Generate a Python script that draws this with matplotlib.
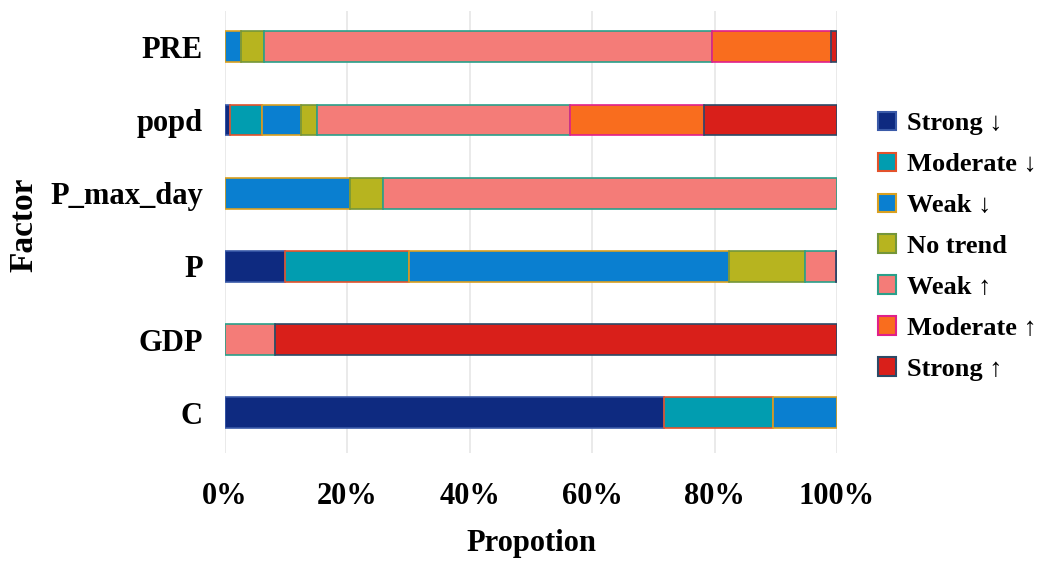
import matplotlib
matplotlib.use("Agg")
import matplotlib.pyplot as plt
import numpy as np
from matplotlib.patches import Patch
from matplotlib.ticker import PercentFormatter

factors = ['C', 'GDP', 'P', 'P_max_day', 'popd', 'PRE']
series = ['Strong ↓', 'Moderate ↓', 'Weak ↓', 'No trend', 'Weak ↑', 'Moderate ↑', 'Strong ↑']

strong_down   = [71.7, 0.0,  9.8,  0.0,  0.8,  0.0]
moderate_down = [17.8, 0.0, 20.2,  0.0,  5.3,  0.0]
weak_down     = [10.5, 0.0, 52.3, 20.5,  6.4,  2.6]
no_trend      = [0.0,  0.0, 12.5,  5.4,  2.6,  3.7]
weak_up       = [0.0,  8.2,  5.0, 74.1, 41.2, 73.2]
moderate_up   = [0.0,  0.0,  0.1,  0.0, 22.0, 19.6]
strong_up     = [0.0, 91.8,  0.1,  0.0, 21.7,  0.9]

fills = ['#0e2a80', '#019db0', '#0a7fd0', '#b7b41f', '#f47c78', '#f96d1e', '#d91f1a']
edges = ['#3a5aa8', '#e3522b', '#d9a020', '#74963a', '#2aa08a', '#e0208a', '#2c4a66']

data = [strong_down, moderate_down, weak_down, no_trend, weak_up, moderate_up, strong_up]

plt.rcParams['font.family'] = ['Liberation Serif', 'DejaVu Serif']
plt.rcParams['font.weight'] = 'bold'

fig = plt.figure(figsize=(10.44, 5.66), dpi=100)
ax = fig.add_axes([0.2155, 0.1996, 0.5862, 0.781])

y = np.arange(len(factors))
left = np.zeros(len(factors))
for vals, fc, ec in zip(data, fills, edges):
    v = np.array(vals) / 100.0
    m = v > 0
    ax.barh(y[m], v[m], left=left[m], height=0.42, color=fc, edgecolor=ec,
            linewidth=1.2, zorder=3)
    left += v

ax.set_xlim(0, 1.0)
ax.set_ylim(-0.55, 5.49)
ax.set_yticks(y)
ax.set_yticklabels(factors)
ax.set_xticks(np.linspace(0, 1, 6))
ax.xaxis.set_major_formatter(PercentFormatter(1.0, decimals=0))
ax.tick_params(axis='both', length=0, labelsize=22)
ax.tick_params(axis='y', pad=16)
ax.tick_params(axis='x', pad=21)
for lab in ax.get_xticklabels() + ax.get_yticklabels():
    lab.set_fontweight('bold')
for s in ax.spines.values():
    s.set_visible(False)
ax.grid(axis='x', color='#e6e6e6', linewidth=1.2, zorder=0)
ax.set_axisbelow(True)

ax.set_xlabel('Propotion', fontsize=22, fontweight='bold', labelpad=13)
fig.text(0.023, 0.6025, 'Factor', rotation=90, fontsize=24, fontweight='bold',
         ha='center', va='center')

handles = [Patch(facecolor=fc, edgecolor=ec, linewidth=1.5) for fc, ec in zip(fills, edges)]
leg = fig.legend(handles, series, loc='center left', bbox_to_anchor=(0.841, 0.565),
                 frameon=False, fontsize=19, handlelength=0.7, handleheight=0.7,
                 handletextpad=0.38, labelspacing=0.66, borderpad=0, borderaxespad=0)
for t in leg.get_texts():
    t.set_fontweight('bold')

fig.savefig('out.png', dpi=100)
